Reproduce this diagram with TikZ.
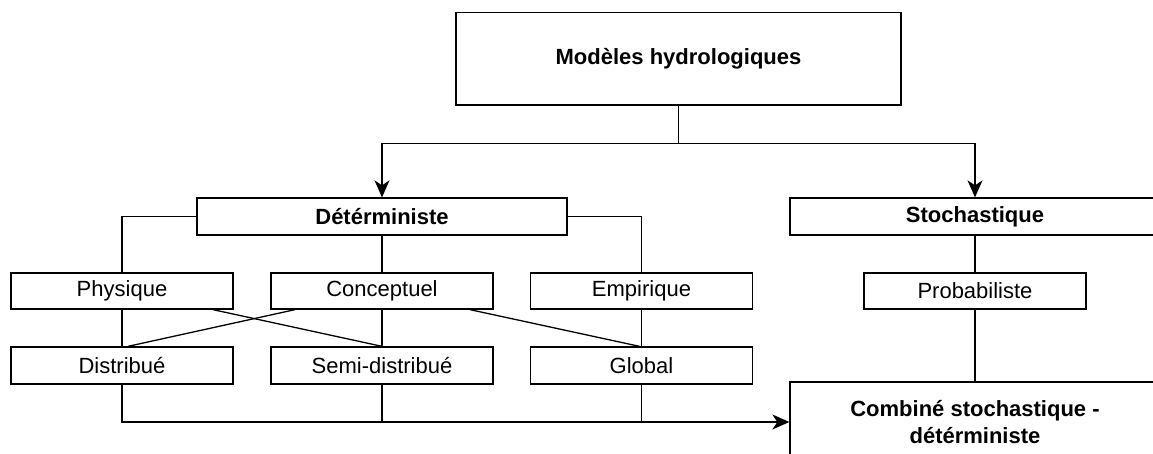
\documentclass[tikz,border=0pt]{standalone}
\usepackage{fontspec}
\setmainfont{Liberation Sans}
\usetikzlibrary{arrows.meta,calc}

\tikzset{
  box/.style={draw, line width=0.65pt, inner sep=0pt, anchor=center, align=center, font=\fontsize{11}{13.5}\selectfont},
  head/.style={box, font=\fontsize{11}{13.5}\selectfont\bfseries},
  sub/.style={box, minimum width=111pt, minimum height=18pt},
  link/.style={line width=0.65pt},
  arr/.style={link, -{Stealth[length=8.5pt,width=7.5pt,inset=2.5pt]}}
}

\begin{document}
\begin{tikzpicture}[x=0.5pt,y=-0.5pt]
\useasboundingbox (0,0) rectangle (1153,454);

% top level
\node[head, minimum width=222.5pt, minimum height=46.25pt] (top) at (678.5,58.75) {Modèles hydrologiques};
\node[head, minimum width=185pt, minimum height=18.5pt] (det) at (382,216.5) {Détérministe};
\node[head, minimum width=185pt, minimum height=18.5pt] (sto) at (975,216.5) {Stochastique};

% second row
\node[sub] (phys) at (122,291) {Physique};
\node[sub] (conc) at (382,291) {Conceptuel};
\node[sub] (emp) at (641.5,291) {Empirique};
\node[sub] (prob) at (975,291) {Probabiliste};

% third row
\node[sub, minimum height=18.5pt] (dist) at (122,365.5) {Distribué};
\node[sub, minimum height=18.5pt] (semi) at (382,365.5) {Semi-distribué};
\node[sub, minimum height=18.5pt] (glob) at (641.5,365.5) {Global};
\node[head, minimum width=185pt, minimum height=40pt] (comb) at (975,422) {Combiné stochastique -\\détérministe};

\draw[link] (top.south) -- ++(0,38) coordinate (split);
\draw[arr] (split) -| (det.north);
\draw[arr] (split) -| (sto.north);

\draw[link] (det.west) -| (phys.north);
\draw[link] (det.east) -| (emp.north);
\draw[link] (det.south) -- (conc.north);
\draw[link] (sto.south) -- (prob.north);
\draw[link] (prob.south) -- (comb.north);

\draw[link] (phys.south) -- (dist.north);
\draw[link] (conc.south) -- (semi.north);
\draw[link] (emp.south) -- (glob.north);
\draw[link] ($(phys.south)+(91,0)$) -- (semi.north);
\draw[link] ($(conc.south)+(-87,0)$) -- ($(dist.north)+(6,0)$);
\draw[link] ($(conc.south)+(88,0)$) -- ($(glob.north)+(-2,0)$);

\draw[arr] (dist.south) |- (comb.west);
\draw[link] (semi.south) -- (semi.south |- comb.west);
\draw[link] (glob.south) -- (glob.south |- comb.west);

\end{tikzpicture}
\end{document}
